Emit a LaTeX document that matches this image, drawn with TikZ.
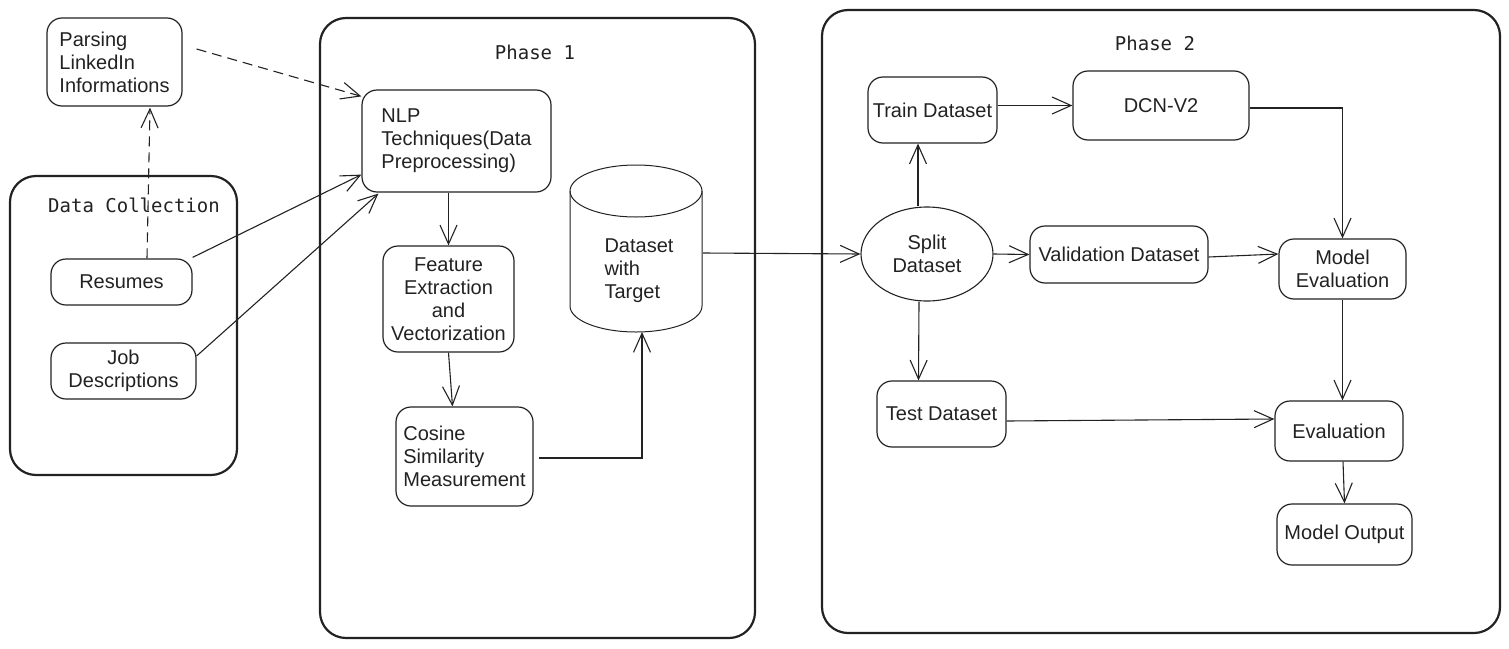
\documentclass[tikz,border=0pt]{standalone}
\usepackage{fontspec}
\setmainfont{Liberation Sans}
\newfontfamily\monofont{DejaVu Sans Mono}
\usetikzlibrary{arrows.meta,calc,shapes.geometric}
\definecolor{ink}{HTML}{222222}
\begin{document}
\begin{tikzpicture}[x=1pt,y=-1pt,
  every node/.style={text=ink, font=\fontsize{20}{23}\selectfont, inner sep=0pt},
  container/.style={draw=ink, line width=2.2pt, rounded corners=26pt},
  ttl/.style={font=\monofont\fontsize{19}{23}\selectfont},
  box/.style={draw=ink, line width=1.2pt, rounded corners=15pt},
  oval/.style={draw=ink, line width=1.1pt, ellipse},
  arr/.style={draw=ink, line width=1.1pt, -{Straight Barb[length=19pt,width=17pt]}},
  dsh/.style={dash pattern=on 10pt off 6pt}
]
\useasboundingbox (0,0) rectangle (1509,648);

% containers
\draw[container] (10,176) rectangle (237,475);
\draw[container] (320,18) rectangle (755,638);
\draw[container] (822,10) rectangle (1500,633);
\node[ttl] (tdc) at (134,205) {Data Collection};
\node[ttl] (tp1) at (535,52) {Phase 1};
\node[ttl] (tp2) at (1155,43) {Phase 2};

% phase 1 / data collection nodes
\node[box, minimum width=135pt, minimum height=88pt, align=left] (parse) at (114.5,62) {Parsing\\LinkedIn\\Informations};
\node[box, minimum width=189pt, minimum height=102pt, align=left] (nlp) at (456.5,141) {NLP\\Techniques(Data\\Preprocessing)};
\node[box, minimum width=131pt, minimum height=106pt, align=center] (feat) at (448.5,299) {Feature\\Extraction\\and\\Vectorization};
\node[box, minimum width=137pt, minimum height=99pt, align=left] (cos) at (464.5,456.5) {Cosine\\Similarity\\Measurement};
\node[box, minimum width=141pt, minimum height=46pt] (res) at (121.5,282) {Resumes};
\node[box, minimum width=145pt, minimum height=56pt, align=center] (job) at (123.5,371) {Job\\Descriptions};

% cylinder
\draw[ink, line width=1pt] (570,191) -- (570,306) arc[start angle=180, end angle=360, x radius=66pt, y radius=26pt] -- (702,191);
\draw[ink, line width=1pt] (636,191) ellipse [x radius=66pt, y radius=26pt];
\node[align=left] (ds) at (639,271) {Dataset\\with\\Target};
\coordinate (cylE) at (703,253);
\coordinate (cylS) at (642,332);
\coordinate (cosR) at (642,458);

% phase 2 nodes
\node[box, minimum width=129pt, minimum height=66pt] (train) at (932.5,110) {Train Dataset};
\node[box, minimum width=176pt, minimum height=69pt] (dcn) at (1161,105.5) {DCN-V2};
\node[oval, minimum width=132pt, minimum height=94pt, align=center] (split) at (927,254) {Split\\Dataset};
\node[box, minimum width=178pt, minimum height=57pt] (val) at (1119,254.5) {Validation Dataset};
\node[box, minimum width=127pt, minimum height=60pt, align=center] (meval) at (1342.5,269) {Model\\Evaluation};
\node[box, minimum width=129pt, minimum height=66pt] (test) at (941.5,414) {Test Dataset};
\node[box, minimum width=128pt, minimum height=60pt] (eval) at (1339,431) {Evaluation};
\node[box, minimum width=135pt, minimum height=61pt] (mout) at (1344.5,534.5) {Model Output};

% connectors
\draw[arr, dsh] ($(parse.east)+(14,-13)$) -- ($(nlp.north west)+(0,7)$);
\draw[arr, dsh] ($(res.north)+(25.5,0)$) -- ($(parse.south)+(35.5,1)$);
\draw[arr] ($(res.north east)+(0,-1)$) -- ($(nlp.south west)+(0,-18)$);
\draw[arr] ($(job.east)+(0,-15)$) -- ($(nlp.south west)+(17,1)$);
\draw[arr] (nlp.south -| feat.north) -- (feat.north);
\draw[arr] (feat.south) -- ($(cos.north)+(-12,0)$);
\draw[arr] ($(cos.east)+(5,1.5)$) -- (cosR) -- (cylS);
\draw[arr] (cylE) -- (split.west);
\draw[arr] ($(split.north)+(-9,0)$) -- ($(train.south)+(-14.5,0)$);
\draw[arr] (split.east) -- (val.west);
\draw[arr] ($(split.south)+(-8,0)$) -- ($(test.north)+(-23,0)$);
\draw[arr] (train.east |- dcn.west) -- (dcn.west);
\draw[arr] ($(dcn.east)+(0,2.5)$) -| (meval.north);
\draw[arr] ($(val.east)+(0,2.5)$) -- ($(meval.west)+(0,-15)$);
\draw[arr] ($(test.east)+(0,7)$) -- ($(eval.west)+(0,-12)$);
\draw[arr] (meval.south) -- (meval.south |- eval.north);
\draw[arr] ($(eval.south)+(4,0)$) -- (mout.north);
\end{tikzpicture}
\end{document}
